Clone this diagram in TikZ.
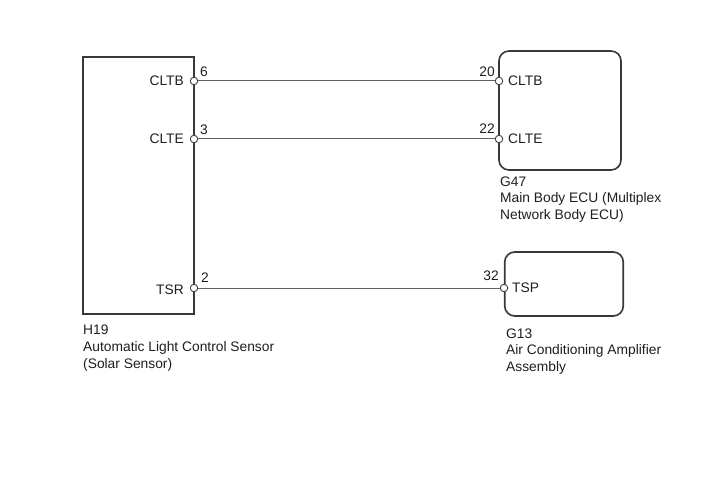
\documentclass[tikz,border=0pt]{standalone}
\usepackage{fontspec}
\setmainfont{Liberation Sans}
\tikzset{
  x=1bp,y=-1bp,
  unitbox/.style={draw=black!78,line width=1.6bp,fill=white},
  wire/.style={draw=black!62,line width=1bp},
  pinmark/.style={circle,draw=black!75,line width=0.9bp,fill=white,minimum size=7.5bp,inner sep=0pt},
  txt/.style={inner sep=0pt,font=\fontsize{13.8bp}{16.6bp}\selectfont,text=black!88,anchor=base west},
  txe/.style={txt,anchor=base east},
  captext/.style={inner sep=0pt,font=\fontsize{13.8bp}{16.6bp}\selectfont,text=black!88,anchor=north west,align=left},
}
\begin{document}
\begin{tikzpicture}
\useasboundingbox (0,0) rectangle (713,481);
\fill[white] (0,0) rectangle (713,481);
% unit outlines
\node[unitbox,rectangle,inner sep=0pt,minimum width=111bp,minimum height=257bp] (h19) at (138.5,185.5) {};
\node[unitbox,rectangle,rounded corners=10bp,inner sep=0pt,minimum width=122bp,minimum height=119bp] (g47) at (560,110.5) {};
\node[unitbox,rectangle,rounded corners=10bp,inner sep=0pt,minimum width=118.5bp,minimum height=64bp] (g13) at (564,284) {};
% pins
\node[pinmark] (a1) at (194,81) {};
\node[pinmark] (a2) at (194,139) {};
\node[pinmark] (a3) at (194,288) {};
\node[pinmark] (b1) at (499,81) {};
\node[pinmark] (b2) at (499,139) {};
\node[pinmark] (c1) at (504,288) {};
% wires
\draw[wire] (a1) -- (b1);
\draw[wire] (a2) -- (b2);
\draw[wire] (a3) -- (c1);
% pin names
\node[txe] (n1) at (184,86) {CLTB};
\node[txe] (n2) at (184,144) {CLTE};
\node[txe] (n3) at (184,294) {TSR};
\node[txt] (n4) at (508,86) {CLTB};
\node[txt] (n5) at (508,144) {CLTE};
\node[txt] (n6) at (512,292) {TSP};
% pin numbers
\node[txt] (p1) at (200,77) {6};
\node[txt] (p2) at (200,135) {3};
\node[txt] (p3) at (201,283) {2};
\node[txe] (q1) at (495,77) {20};
\node[txe] (q2) at (495,134) {22};
\node[txe] (r1) at (499,281) {32};
% captions
\node[captext] (ch) at (83,325) {H19\\Automatic Light Control Sensor\\(Solar Sensor)};
\node[captext] (cg) at (500,176.5) {G47\\Main Body ECU (Multiplex\\Network Body ECU)};
\node[captext] (cr) at (506,328.5) {G13\\Air Conditioning Amplifier\\Assembly};
\end{tikzpicture}
\end{document}
